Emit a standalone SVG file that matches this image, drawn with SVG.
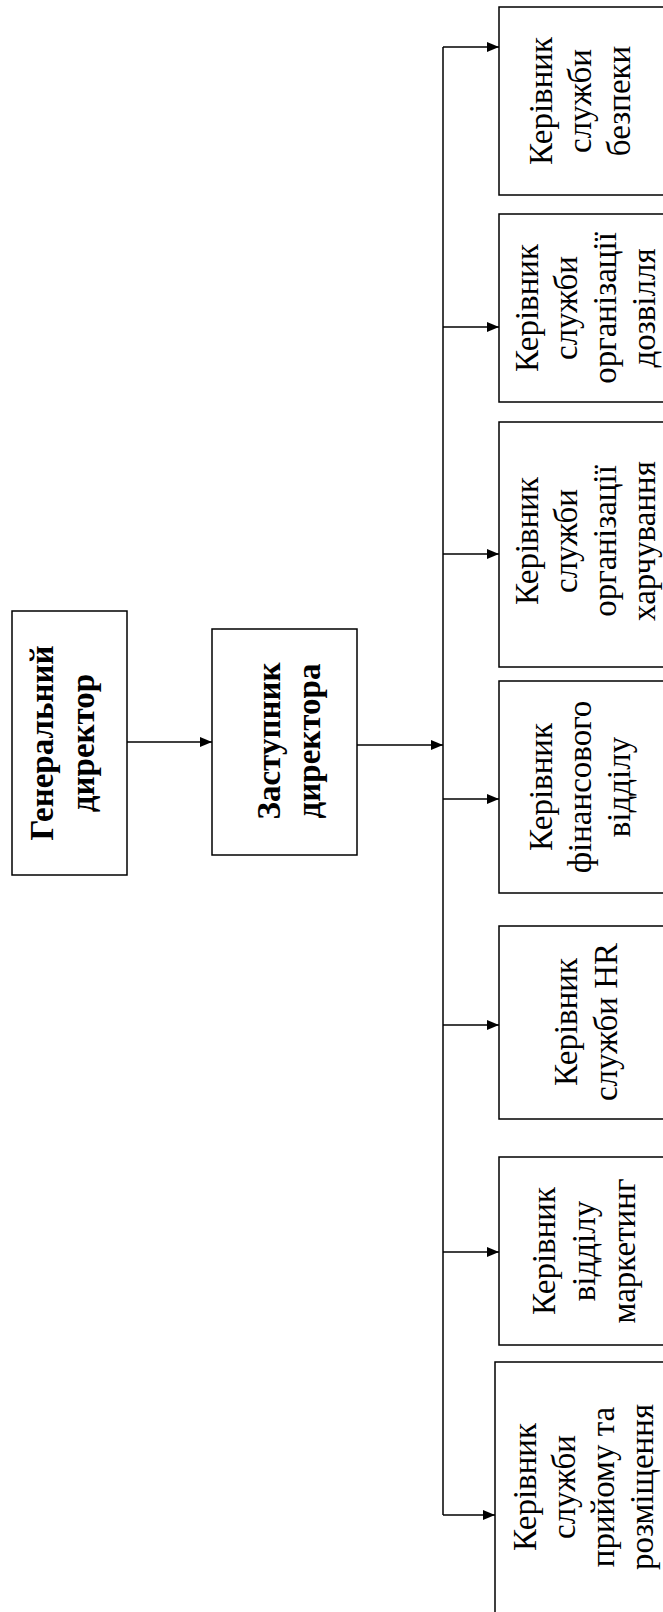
<svg xmlns="http://www.w3.org/2000/svg" width="663" height="1612" viewBox="0 0 663 1612">
<style>
.bg{fill:#ffffff}
.box{fill:#ffffff;stroke:#000000;stroke-width:1.5}
.conn{fill:none;stroke:#000000;stroke-width:1.5}
.t{font-family:"Liberation Serif","Times New Roman",serif;font-size:33px;fill:#000000;text-anchor:middle}
.b{font-weight:bold}
</style>
<defs>
<marker id="arr" viewBox="0 0 12 10" refX="12" refY="5" markerWidth="12" markerHeight="10" markerUnits="userSpaceOnUse" orient="auto">
<path d="M0,0 L12,5 L0,10 Z" fill="#000000"/>
</marker>
</defs>
<rect class="bg" x="0" y="0" width="663" height="1612"/>

<g id="connectors">
<line class="conn" x1="127" y1="742" x2="212" y2="742" marker-end="url(#arr)"/>
<line class="conn" x1="357" y1="745" x2="443" y2="745" marker-end="url(#arr)"/>
<line class="conn" x1="443" y1="47" x2="443" y2="1515"/>
<line class="conn" x1="443" y1="47" x2="499" y2="47" marker-end="url(#arr)"/>
<line class="conn" x1="443" y1="327" x2="499" y2="327" marker-end="url(#arr)"/>
<line class="conn" x1="443" y1="554" x2="499" y2="554" marker-end="url(#arr)"/>
<line class="conn" x1="443" y1="799" x2="499" y2="799" marker-end="url(#arr)"/>
<line class="conn" x1="443" y1="1025" x2="499" y2="1025" marker-end="url(#arr)"/>
<line class="conn" x1="443" y1="1252" x2="499" y2="1252" marker-end="url(#arr)"/>
<line class="conn" x1="443" y1="1515" x2="495" y2="1515" marker-end="url(#arr)"/>
</g>

<g id="gen-director">
<rect class="box" x="12" y="611" width="115" height="264"/>
<text class="t b" transform="translate(53,743) rotate(-90)">Генеральний</text>
<text class="t b" transform="translate(94,743) rotate(-90)">директор</text>
</g>

<g id="deputy-director">
<rect class="box" x="212" y="629" width="145" height="226"/>
<text class="t b" transform="translate(280,741) rotate(-90)">Заступник</text>
<text class="t b" transform="translate(320,741) rotate(-90)">директора</text>
</g>

<g id="security">
<rect class="box" x="499" y="7" width="190" height="188"/>
<text class="t" transform="translate(552,101) rotate(-90)">Керівник</text>
<text class="t" transform="translate(591,101) rotate(-90)">служби</text>
<text class="t" transform="translate(630,101) rotate(-90)">безпеки</text>
</g>

<g id="leisure">
<rect class="box" x="499" y="214" width="190" height="188"/>
<text class="t" transform="translate(538,308) rotate(-90)">Керівник</text>
<text class="t" transform="translate(577,308) rotate(-90)">служби</text>
<text class="t" transform="translate(616,308) rotate(-90)">організації</text>
<text class="t" transform="translate(655,308) rotate(-90)">дозвілля</text>
</g>

<g id="catering">
<rect class="box" x="499" y="422" width="190" height="245"/>
<text class="t" transform="translate(538,541) rotate(-90)">Керівник</text>
<text class="t" transform="translate(577,541) rotate(-90)">служби</text>
<text class="t" transform="translate(616,541) rotate(-90)">організації</text>
<text class="t" transform="translate(655,541) rotate(-90)">харчування</text>
</g>

<g id="finance">
<rect class="box" x="499" y="681" width="190" height="212"/>
<text class="t" transform="translate(552,787) rotate(-90)">Керівник</text>
<text class="t" transform="translate(591,787) rotate(-90)">фінансового</text>
<text class="t" transform="translate(630,787) rotate(-90)">відділу</text>
</g>

<g id="hr">
<rect class="box" x="499" y="926" width="190" height="193"/>
<text class="t" transform="translate(577,1022) rotate(-90)">Керівник</text>
<text class="t" transform="translate(617,1022) rotate(-90)">служби HR</text>
</g>

<g id="marketing">
<rect class="box" x="499" y="1157" width="190" height="188"/>
<text class="t" transform="translate(555,1251) rotate(-90)">Керівник</text>
<text class="t" transform="translate(595,1251) rotate(-90)">відділу</text>
<text class="t" transform="translate(635,1251) rotate(-90)">маркетинг</text>
</g>

<g id="reception">
<rect class="box" x="495" y="1362" width="194" height="280"/>
<text class="t" transform="translate(536,1487) rotate(-90)">Керівник</text>
<text class="t" transform="translate(575,1487) rotate(-90)">служби</text>
<text class="t" transform="translate(614,1487) rotate(-90)">прийому та</text>
<text class="t" transform="translate(653,1487) rotate(-90)">розміщення</text>
</g>
</svg>
